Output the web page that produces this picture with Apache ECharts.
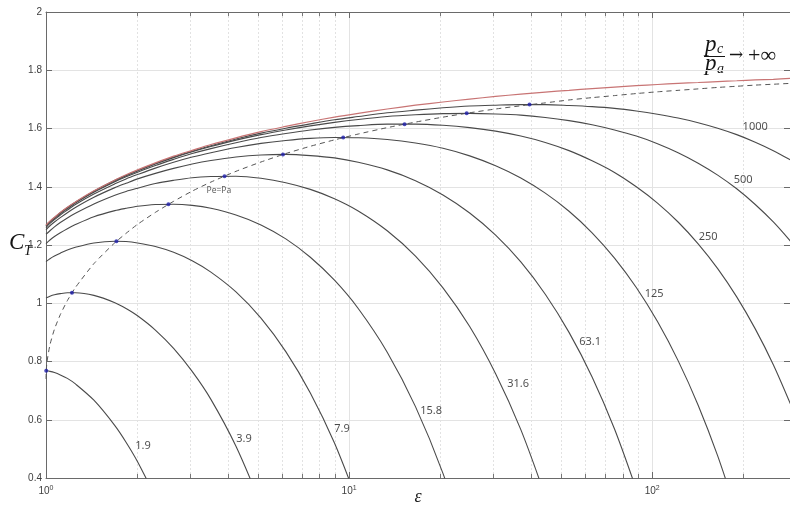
<!DOCTYPE html>
<html>
<head>
<meta charset="utf-8">
<script src="https://cdn.jsdelivr.net/npm/echarts@6/dist/echarts.min.js"></script>
<style>
html, body { margin: 0; padding: 0; background: #fff; }
#chart { width: 790px; height: 505px; }
</style>
</head>
<body>
<div id="chart"></div>
<script>
// area ratio samples (x values shared by every curve)
var eps = [1, 1.0304, 1.0663, 1.1149, 1.1762, 1.2502, 1.4390, 1.6875, 1.8369, 2.0050,
  2.2953, 2.6367, 3.0359, 3.5001, 4.2346, 5.1210, 6.1837, 7.4502, 8.9506, 10.719,
  13.362, 16.562, 20.408, 25.0, 30.447, 36.869, 44.399, 53.18, 63.369, 75.134,
  88.66, 104.14, 121.79, 141.84, 164.53, 190.11, 218.87, 251.09, 287.07];

// pc/pa -> +inf
var ctVac = [1.268, 1.282, 1.295, 1.312, 1.330, 1.348, 1.386, 1.423, 1.441, 1.458,
  1.482, 1.505, 1.525, 1.545, 1.568, 1.589, 1.607, 1.624, 1.639, 1.652,
  1.667, 1.680, 1.691, 1.701, 1.710, 1.718, 1.725, 1.731, 1.737, 1.742,
  1.747, 1.751, 1.755, 1.758, 1.761, 1.764, 1.767, 1.769, 1.772];

var ct1_9 = [0.768, 0.766, 0.762, 0.754, 0.742, 0.723, 0.667, 0.580, 0.523, 0.456, 0.335];
var ct3_9 = [1.018, 1.024, 1.029, 1.033, 1.036, 1.036, 1.027, 1.002, 0.982, 0.957,
  0.908, 0.845, 0.766, 0.670, 0.509, 0.308];
var ct7_9 = [1.143, 1.153, 1.162, 1.172, 1.183, 1.192, 1.207, 1.213, 1.212, 1.207,
  1.195, 1.175, 1.146, 1.107, 1.039, 0.949, 0.834, 0.692, 0.520, 0.312];
var ct15_8 = [1.205, 1.217, 1.229, 1.242, 1.256, 1.270, 1.297, 1.318, 1.326, 1.333,
  1.339, 1.340, 1.336, 1.326, 1.303, 1.269, 1.221, 1.158, 1.079, 0.982,
  0.832, 0.645, 0.416, 0.139];
var ct31_6 = [1.237, 1.249, 1.262, 1.277, 1.293, 1.309, 1.341, 1.371, 1.384, 1.395,
  1.411, 1.422, 1.431, 1.435, 1.436, 1.429, 1.414, 1.391, 1.359, 1.317,
  1.249, 1.162, 1.053, 0.920, 0.758, 0.566, 0.337];
var ct63_1 = [1.252, 1.266, 1.279, 1.294, 1.311, 1.329, 1.364, 1.397, 1.412, 1.427,
  1.446, 1.463, 1.478, 1.490, 1.502, 1.509, 1.511, 1.507, 1.499, 1.484,
  1.458, 1.421, 1.372, 1.310, 1.234, 1.142, 1.031, 0.900, 0.747, 0.568, 0.361];
var ct125 = [1.260, 1.274, 1.287, 1.303, 1.320, 1.339, 1.375, 1.410, 1.427, 1.442,
  1.464, 1.484, 1.502, 1.517, 1.535, 1.549, 1.559, 1.566, 1.569, 1.568,
  1.562, 1.550, 1.532, 1.506, 1.472, 1.430, 1.378, 1.316, 1.242, 1.155,
  1.054, 0.937, 0.803, 0.650, 0.476, 0.279];
var ct250 = [1.264, 1.278, 1.291, 1.307, 1.325, 1.344, 1.381, 1.417, 1.434, 1.450,
  1.473, 1.494, 1.514, 1.531, 1.551, 1.569, 1.583, 1.595, 1.604, 1.610,
  1.615, 1.615, 1.611, 1.603, 1.591, 1.574, 1.552, 1.524, 1.489, 1.449,
  1.400, 1.344, 1.279, 1.204, 1.119, 1.022, 0.912, 0.789, 0.650];
var ct500 = [1.266, 1.280, 1.293, 1.310, 1.327, 1.346, 1.384, 1.420, 1.438, 1.454,
  1.478, 1.500, 1.520, 1.538, 1.560, 1.579, 1.595, 1.609, 1.621, 1.631,
  1.641, 1.647, 1.651, 1.652, 1.650, 1.646, 1.638, 1.627, 1.613, 1.595,
  1.574, 1.548, 1.517, 1.481, 1.440, 1.393, 1.339, 1.279, 1.211];
var ct1000 = [1.267, 1.281, 1.294, 1.311, 1.329, 1.347, 1.385, 1.422, 1.439, 1.456,
  1.480, 1.502, 1.522, 1.541, 1.564, 1.584, 1.601, 1.616, 1.630, 1.641,
  1.654, 1.663, 1.671, 1.677, 1.680, 1.682, 1.682, 1.679, 1.675, 1.669,
  1.660, 1.649, 1.636, 1.620, 1.601, 1.579, 1.553, 1.524, 1.491];

// Pe=Pa locus (dashed)
var optEps = [1, 1.002, 1.0079, 1.0304, 1.0663, 1.1149, 1.1762, 1.2502, 1.4390, 1.6875,
  1.8369, 2.0050, 2.2953, 2.6367, 3.0359, 3.5001, 4.2346, 5.1210, 6.1837, 7.4502,
  8.9506, 10.719, 13.362, 16.562, 20.408, 25.0, 30.447, 36.869, 44.399, 53.18,
  63.369, 75.134, 88.66, 104.14, 121.79, 141.84, 164.53, 190.11, 218.87, 251.09, 287.07];
var optCT = [0.740, 0.770, 0.800, 0.857, 0.911, 0.961, 1.009, 1.054, 1.136, 1.208,
  1.240, 1.271, 1.312, 1.350, 1.385, 1.416, 1.453, 1.485, 1.514, 1.539,
  1.561, 1.581, 1.603, 1.622, 1.639, 1.654, 1.667, 1.678, 1.688, 1.698,
  1.706, 1.713, 1.720, 1.726, 1.731, 1.736, 1.741, 1.745, 1.749, 1.752, 1.755];

// maxima of each curve (blue dots)
var dotEps = [1.0017, 1.218, 1.708, 2.535, 3.881, 6.053, 9.563, 15.24, 24.44, 39.39];
var dotCT = [0.768, 1.036, 1.213, 1.340, 1.436, 1.511, 1.569, 1.615, 1.652, 1.682];

// curve labels
var labelText = ['1.9', '3.9', '7.9', '15.8', '31.6', '63.1', '125', '250', '500', '1000'];
var labelEps = [2.09, 4.50, 9.48, 18.65, 36.1, 62.4, 101.5, 153, 199.7, 218.8];
var labelCT = [0.511, 0.535, 0.569, 0.631, 0.724, 0.869, 1.033, 1.228, 1.424, 1.605];

var minorX = [2, 3, 4, 5, 6, 7, 8, 9, 20, 30, 40, 50, 60, 70, 80, 90, 200];

var curveList = [ct1_9, ct3_9, ct7_9, ct15_8, ct31_6, ct63_1, ct125, ct250, ct500, ct1000];

function pairs(xs, ys) {
  return ys.map(function (y, i) { return [xs[i], y]; });
}

var chart = echarts.init(document.getElementById('chart'));

var tickLen = 0.014;
var markData = [];
minorX.forEach(function (v) {
  markData.push({ xAxis: v });
  markData.push([{ coord: [v, 0.4], lineStyle: { type: 'solid', color: '#777', width: 1 } }, { coord: [v, 0.4 + tickLen] }]);
  markData.push([{ coord: [v, 2], lineStyle: { type: 'solid', color: '#777', width: 1 } }, { coord: [v, 2 - tickLen] }]);
});

var series = [];
curveList.forEach(function (c, i) {
  series.push({
    name: labelText[i],
    type: 'line',
    data: pairs(eps, c),
    smooth: 0.3,
    showSymbol: false,
    lineStyle: { color: '#4a4a4a', width: 1.1 },
    z: 3
  });
});

series.push({
  name: 'vac',
  type: 'line',
  data: pairs(eps, ctVac),
  smooth: 0.3,
  showSymbol: false,
  lineStyle: { color: '#c87474', width: 1.2 },
  z: 4,
  markLine: {
    silent: true,
    symbol: ['none', 'none'],
    label: { show: false },
    z: 1,
    animation: false,
    lineStyle: { color: '#e2e2e2', type: [2, 2], width: 1 },
    data: markData
  }
});

series.push({
  name: 'Pe=Pa',
  type: 'line',
  data: pairs(optEps, optCT),
  smooth: 0.2,
  showSymbol: false,
  lineStyle: { color: '#555', width: 1, type: [5, 4] },
  z: 4
});

series.push({
  name: 'dots',
  type: 'scatter',
  data: pairs(dotEps, dotCT),
  symbolSize: 4,
  itemStyle: { color: '#1c1ca8' },
  z: 6
});

series.push({
  name: 'labels',
  type: 'scatter',
  symbolSize: 1,
  itemStyle: { color: 'rgba(0,0,0,0)' },
  label: {
    show: true,
    position: 'inside',
    formatter: '{b}',
    fontFamily: 'Noto Sans',
    fontSize: 11,
    color: '#1e1e1e'
  },
  data: labelText.map(function (t, i) {
    return { name: t, value: [labelEps[i], labelCT[i]] };
  }).concat([{
    name: 'Pe=Pa', value: [3.72, 1.386],
    label: { fontSize: 8.5, color: '#333' }
  }]),
  z: 7
});

function logLabel(v) {
  var e = Math.round(Math.log10(v));
  if (Math.abs(v - Math.pow(10, e)) > 1e-6 * v) return '';
  return '10{s|' + e + '}';
}

var option = {
  animation: false,
  backgroundColor: '#fff',
  grid: { left: 46, right: 0, top: 12, bottom: 27, containLabel: false, outerBoundsMode: 'none' },
  xAxis: [{
    type: 'log',
    logBase: 10,
    min: 1,
    max: 285,
    position: 'bottom',
    name: 'ε',
    nameLocation: 'middle',
    nameGap: 10,
    nameMoveOverlap: false,
    nameTextStyle: { fontFamily: 'Liberation Serif', fontStyle: 'italic', fontSize: 18, color: '#222' },
    axisLine: { show: true, onZero: false, lineStyle: { color: '#6a6a6a', width: 1 } },
    axisTick: { show: true, inside: true, length: 6, lineStyle: { color: '#6a6a6a' } },
    axisLabel: {
      formatter: logLabel,
      margin: 7,
      fontFamily: 'Liberation Sans',
      fontSize: 10,
      color: '#404040',
      rich: { s: { fontSize: 7, color: '#404040', verticalAlign: 'top', padding: [0, 0, 6, 0] } }
    },
    splitLine: { show: true, lineStyle: { color: '#e3e3e3', width: 1 } },
    minorTick: { show: false }
  }, {
    type: 'log',
    logBase: 10,
    min: 1,
    max: 285,
    position: 'top',
    axisLine: { show: true, onZero: false, lineStyle: { color: '#6a6a6a', width: 1 } },
    axisTick: { show: true, inside: true, length: 6, lineStyle: { color: '#6a6a6a' } },
    axisLabel: { show: false },
    splitLine: { show: false }
  }],
  yAxis: [{
    type: 'value',
    min: 0.4,
    max: 2,
    interval: 0.2,
    position: 'left',
    axisLine: { show: true, onZero: false, lineStyle: { color: '#6a6a6a', width: 1 } },
    axisTick: { show: true, inside: true, length: 6, lineStyle: { color: '#6a6a6a' } },
    axisLabel: { margin: 4, fontFamily: 'Liberation Sans', fontSize: 10, color: '#404040' },
    splitLine: { show: true, lineStyle: { color: '#e3e3e3', width: 1 } }
  }, {
    type: 'value',
    min: 0.4,
    max: 2,
    interval: 0.2,
    position: 'right',
    axisLine: { show: true, onZero: false, lineStyle: { color: '#6a6a6a', width: 1 } },
    axisTick: { show: true, inside: true, length: 6, lineStyle: { color: '#6a6a6a' } },
    axisLabel: { show: false },
    splitLine: { show: false }
  }],
  graphic: [
    { type: 'text', x: 9, y: 243, style: { text: 'C', font: 'italic 23px "Liberation Serif"', fill: '#151515', verticalAlign: 'middle' } },
    { type: 'text', x: 24, y: 251, style: { text: 'T', font: 'italic 14px "Liberation Serif"', fill: '#151515', verticalAlign: 'middle' } },
    { type: 'text', x: 705, y: 45, style: { text: 'p', font: 'italic 23px "Liberation Serif"', fill: '#151515', verticalAlign: 'middle' } },
    { type: 'text', x: 717, y: 49, style: { text: 'c', font: 'italic 14px "Liberation Serif"', fill: '#151515', verticalAlign: 'middle' } },
    { type: 'line', shape: { x1: 704, y1: 56.5, x2: 725, y2: 56.5 }, style: { stroke: '#151515', lineWidth: 1 } },
    { type: 'text', x: 705, y: 64, style: { text: 'p', font: 'italic 23px "Liberation Serif"', fill: '#151515', verticalAlign: 'middle' } },
    { type: 'text', x: 717, y: 69, style: { text: 'a', font: 'italic 14px "Liberation Serif"', fill: '#151515', verticalAlign: 'middle' } },
    { type: 'text', x: 729, y: 56, style: { text: '→', font: '17px "DejaVu Serif"', fill: '#151515', verticalAlign: 'middle' } },
    { type: 'text', x: 748, y: 56, style: { text: '+∞', font: '22px "Liberation Serif"', fill: '#151515', verticalAlign: 'middle' } }
  ],
  series: series
};

chart.setOption(option);
</script>
</body>
</html>
